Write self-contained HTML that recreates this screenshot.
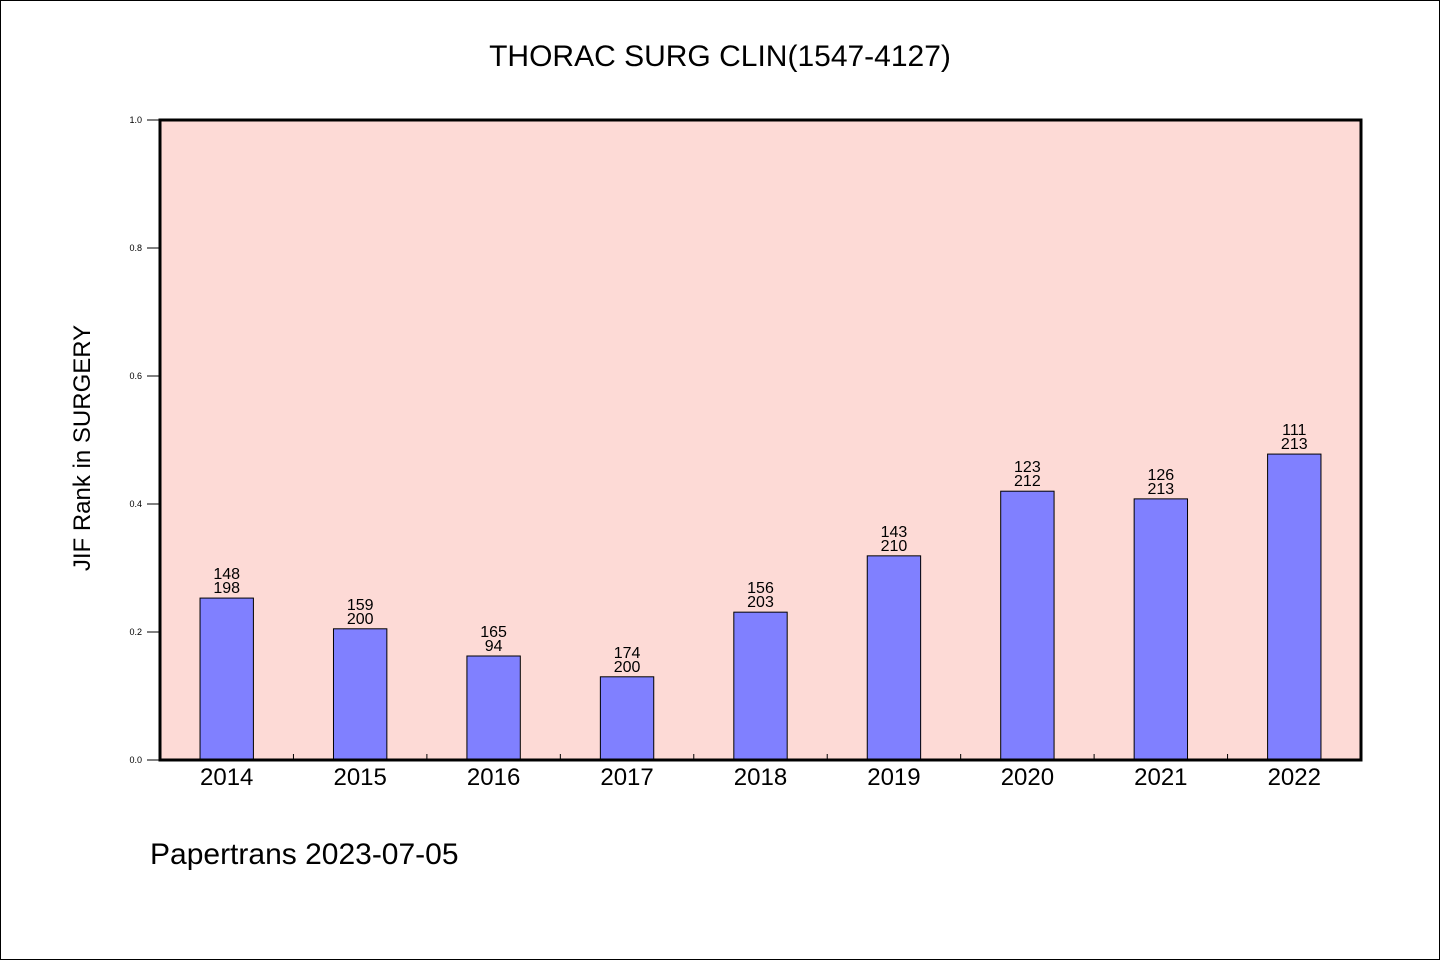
<!DOCTYPE html>
<html><head><meta charset="utf-8"><style>
body{margin:0;background:#fff;}
svg text{font-family:"WenQuanYi Zen Hei","Liberation Sans",sans-serif;fill:#000;}
</style></head><body>
<svg id="chart" width="1440" height="960" xmlns="http://www.w3.org/2000/svg">
<rect x="0.5" y="0.5" width="1439" height="959" fill="#fff" stroke="#000"/>
<text x="720" y="66" font-size="30" text-anchor="middle">THORAC SURG CLIN(1547-4127)</text>
<rect x="160" y="120" width="1201" height="640" fill="#fddad6"/>
<g id="marks"></g>
<rect x="160" y="120" width="1201" height="640" fill="none" stroke="#000" stroke-width="3"/>
<text transform="translate(90,448) rotate(-90)" font-size="24" text-anchor="middle">JIF Rank in SURGERY</text>
<text x="150" y="864" font-size="30">Papertrans 2023-07-05</text>
</svg>
<script>
const years = ["2014","2015","2016","2017","2018","2019","2020","2021","2022"];
const values = [0.253,0.205,0.1625,0.13,0.231,0.319,0.42,0.408,0.478];
const ranks = ["148","159","165","174","156","143","123","126","111"];
const totals = ["198","200","94","200","203","210","212","213","213"];
const yTicks = ["0.0","0.2","0.4","0.6","0.8","1.0"];
const NS="http://www.w3.org/2000/svg";
const x0=160,x1=1361,y0=760,y1=120;
const band=(x1-x0)/years.length;
const xc=i=>x0+band*(i+0.5);
const y=v=>y0-(y0-y1)*v;
const g=document.getElementById('marks');
function mk(t,a){const e=document.createElementNS(NS,t);for(const k in a)e.setAttribute(k,a[k]);g.appendChild(e);return e;}
yTicks.forEach(t=>{
  const v=parseFloat(t);
  const l=mk('line',{x1:147,x2:160,y1:y(v),y2:y(v),stroke:'#000','stroke-width':1});
  
  
  const tx=mk('text',{x:142,y:y(v)+3,'font-size':9,'text-anchor':'end'});
  tx.textContent=t;
  
  
});
for(let i=1;i<years.length;i++){
  const l=mk('line',{x1:x0+band*i,x2:x0+band*i,y1:y0,y2:y0-6,stroke:'#000','stroke-width':1});
  
  
}
const bw=band*0.4;
years.forEach((yr,i)=>{
  const r=mk('rect',{x:xc(i)-bw/2,y:y(values[i]),width:bw,height:y0-y(values[i]),fill:'#8080ff',stroke:'#000','stroke-width':1});
  
  
  const a=mk('text',{x:xc(i),y:y(values[i])-19,'font-size':16,'text-anchor':'middle'});
  a.textContent=ranks[i];
  
  
  const b=mk('text',{x:xc(i),y:y(values[i])-5,'font-size':16,'text-anchor':'middle'});
  b.textContent=totals[i];
  
  
  const t=mk('text',{x:xc(i),y:785,'font-size':24,'text-anchor':'middle'});
  t.textContent=yr;
  
  
});
</script>
</body></html>
